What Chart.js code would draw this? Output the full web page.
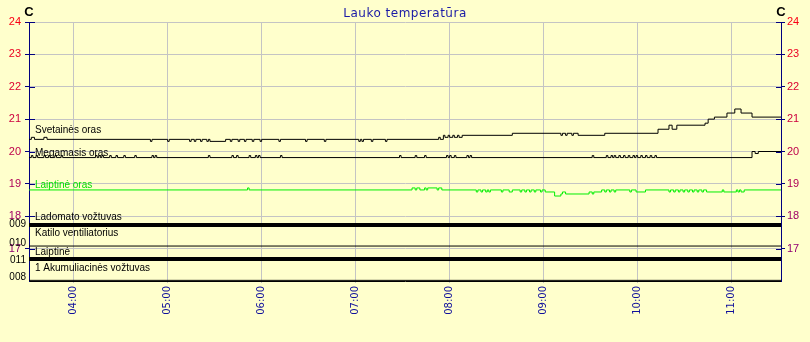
<!DOCTYPE html>
<html>
<head>
<meta charset="utf-8">
<script src="https://cdn.jsdelivr.net/npm/chart.js@4.4.0/dist/chart.umd.min.js"></script>
<style>
  body { margin: 0; background: #ffffcc; }
  canvas { display: block; }
</style>
</head>
<body>
<canvas id="chart" width="810" height="342"></canvas>
<script>
// chart data
const chartTitle = 'Lauko temperatūra';
const axisUnit = 'C';
const xRange = ['03:31.5', '11:31.5'];
const xTickLabels = ['04:00', '05:00', '06:00', '07:00', '08:00', '09:00', '10:00', '11:00'];
const yRange = [16, 24];
const yTickValues = [17, 18, 19, 20, 21, 22, 23, 24];

const analogNames = ['Svetainės oras', 'Megamasis oras', 'Laiptinė oras'];

// [time, value] - value holds from that time on
const svetainesOras = [
  ['03:31', 20.375], ['03:33', 20.4375], ['03:35', 20.375], ['03:41', 20.4375], ['03:43', 20.375],
  ['04:49', 20.3125], ['04:50', 20.375], ['05:00', 20.3125], ['05:01', 20.375],
  ['05:14', 20.3125], ['05:15', 20.375], ['05:17', 20.3125], ['05:18', 20.375], ['05:21', 20.3125], ['05:22', 20.375],
  ['05:25', 20.3125], ['05:26', 20.375], ['05:27', 20.3125], ['05:37', 20.375], ['05:40', 20.3125], ['05:41', 20.375],
  ['05:45', 20.3125], ['05:46', 20.375], ['05:49', 20.3125], ['05:50', 20.375], ['05:54', 20.3125], ['05:55', 20.375],
  ['05:59', 20.3125], ['06:00', 20.375], ['06:11', 20.3125], ['06:12', 20.375], ['06:28', 20.3125], ['06:29', 20.375],
  ['06:40', 20.3125], ['06:41', 20.375], ['07:02', 20.3125], ['07:03', 20.375], ['07:04', 20.3125], ['07:05', 20.375],
  ['07:10', 20.3125], ['07:11', 20.375], ['07:19', 20.3125], ['07:20', 20.375],
  ['07:53', 20.4375], ['07:54', 20.375], ['07:56', 20.5], ['07:57', 20.4375], ['07:59', 20.5], ['08:00', 20.4375],
  ['08:02', 20.5], ['08:03', 20.4375], ['08:05', 20.5], ['08:06', 20.4375], ['08:08', 20.5],
  ['08:40', 20.5625], ['09:11', 20.5], ['09:12', 20.5625], ['09:14', 20.5], ['09:15', 20.5625], ['09:18', 20.5],
  ['09:19', 20.5625], ['09:22', 20.5], ['09:39', 20.5625], ['10:13', 20.6875], ['10:20', 20.8125], ['10:22', 20.6875],
  ['10:25', 20.8125], ['10:43', 20.875], ['10:45', 21.0], ['10:49', 21.0625], ['10:57', 21.1875], ['11:02', 21.3125],
  ['11:06', 21.1875], ['11:13', 21.0625], ['11:32', 21.0625]
];

const megamasisOras = [
  ['03:31', 19.8125], ['03:33', 19.875], ['03:34', 19.8125], ['03:36', 19.875], ['03:37', 19.8125], ['03:41', 19.875],
  ['03:42', 19.8125], ['03:44', 19.875], ['03:45', 19.8125], ['03:48', 19.875], ['03:49', 19.8125], ['03:52', 19.875],
  ['03:53', 19.8125], ['04:14', 19.875], ['04:15', 19.8125], ['04:16', 19.875], ['04:17', 19.8125], ['04:18', 19.875],
  ['04:19', 19.8125], ['04:23', 19.875], ['04:24', 19.8125], ['04:27', 19.875], ['04:28', 19.8125], ['04:32', 19.875],
  ['04:33', 19.8125], ['04:39', 19.875], ['04:40', 19.8125], ['04:50', 19.875], ['04:51', 19.8125], ['04:52', 19.875],
  ['04:53', 19.8125], ['05:26', 19.875], ['05:27', 19.8125], ['05:41', 19.875], ['05:42', 19.8125], ['05:44', 19.875],
  ['05:45', 19.8125], ['05:52', 19.875], ['05:53', 19.8125], ['05:56', 19.875], ['05:57', 19.8125], ['05:58', 19.875],
  ['05:59', 19.8125], ['06:12', 19.875], ['06:13', 19.8125], ['07:28', 19.875], ['07:29', 19.8125], ['07:38', 19.875],
  ['07:39', 19.8125], ['07:44', 19.875], ['07:45', 19.8125], ['07:58', 19.875], ['07:59', 19.8125], ['08:00', 19.875],
  ['08:01', 19.8125], ['08:03', 19.875], ['08:04', 19.8125], ['08:11', 19.875], ['08:12', 19.8125], ['08:13', 19.875],
  ['08:14', 19.8125], ['09:31', 19.875], ['09:32', 19.8125], ['09:40', 19.875], ['09:41', 19.8125], ['09:43', 19.875],
  ['09:44', 19.8125], ['09:45', 19.875], ['09:46', 19.8125], ['09:48', 19.875], ['09:49', 19.8125], ['09:51', 19.875],
  ['09:52', 19.8125], ['09:54', 19.875], ['09:55', 19.8125], ['09:57', 19.875], ['09:58', 19.8125], ['09:59', 19.875],
  ['10:00', 19.8125], ['10:02', 19.875], ['10:03', 19.8125], ['10:05', 19.875], ['10:06', 19.8125], ['10:08', 19.875],
  ['10:09', 19.8125], ['10:11', 19.875], ['10:12', 19.8125], ['11:13', 20.0], ['11:15', 19.9375], ['11:17', 20.0],
  ['11:32', 20.0]
];

const laiptineOras = [
  ['03:31', 18.8125], ['05:51', 18.875], ['05:52', 18.8125],
  ['07:36', 18.875], ['07:38', 18.8125], ['07:39', 18.875], ['07:41', 18.8125], ['07:44', 18.875], ['07:45', 18.8125],
  ['07:46', 18.875], ['07:52', 18.8125], ['07:53', 18.875], ['07:55', 18.8125],
  ['08:17', 18.75], ['08:18', 18.8125], ['08:20', 18.75], ['08:21', 18.8125], ['08:23', 18.75], ['08:24', 18.8125],
  ['08:25', 18.75], ['08:26', 18.8125], ['08:33', 18.75], ['08:34', 18.8125], ['08:38', 18.75], ['08:40', 18.8125],
  ['08:45', 18.75], ['08:46', 18.8125], ['08:48', 18.75], ['08:49', 18.8125], ['08:51', 18.75], ['08:52', 18.8125],
  ['08:54', 18.75], ['08:55', 18.8125], ['08:58', 18.75], ['08:59', 18.8125],
  ['09:01', 18.75], ['09:07', 18.625], ['09:11', 18.6875], ['09:12', 18.75], ['09:14', 18.6875], ['09:29', 18.75],
  ['09:31', 18.6875], ['09:32', 18.75], ['09:37', 18.8125], ['09:39', 18.75], ['09:40', 18.8125], ['09:42', 18.75],
  ['09:43', 18.8125], ['09:45', 18.75], ['09:46', 18.8125], ['09:55', 18.75], ['09:56', 18.8125], ['09:59', 18.75],
  ['10:05', 18.8125], ['10:20', 18.75], ['10:21', 18.8125], ['10:23', 18.75], ['10:24', 18.8125], ['10:26', 18.75],
  ['10:27', 18.8125], ['10:29', 18.75], ['10:30', 18.8125], ['10:32', 18.75], ['10:33', 18.8125], ['10:35', 18.75],
  ['10:36', 18.8125], ['10:38', 18.75], ['10:39', 18.8125], ['10:41', 18.75], ['10:42', 18.8125], ['10:44', 18.75],
  ['10:54', 18.8125], ['10:55', 18.75], ['11:03', 18.8125], ['11:04', 18.75], ['11:05', 18.8125], ['11:06', 18.75],
  ['11:08', 18.8125], ['11:32', 18.8125]
];

const digitalNames = ['Ladomato vožtuvas', 'Katilo ventiliatorius', 'Laiptinė', '1 Akumuliacinės vožtuvas'];
const digitalCodes = ['009', '010', '011', '008'];
const digitalStates = [1, 0, 1, 0];
const digitalLevels = [17.73, 17.08, 16.68, 16.02];

// styles / text anchors
const analogColors = ['#000000', '#000000', '#00ee00'];
const labelColors = ['#000000', '#000000', '#00dd00'];
const analogLabelY = [20.67, 19.96, 18.97];
const digitalLabelY = [17.96, 17.46, 16.9, 16.38];
const codeLabelY = [17.74, 17.17, 16.65, 16.12];
const navy = '#000080';
const gridGray = '#c4c4c4';

const toMin = s => {
  const [h, m] = s.split(':');
  return Number(h) * 60 + parseFloat(m);
};
const xMin = toMin(xRange[0]);
const xMax = toMin(xRange[1]);

function fmtTime(v) {
  const h = Math.floor(v / 60), m = Math.round(v % 60);
  return String(h).padStart(2, '0') + ':' + String(m).padStart(2, '0');
}

function tickColor(v) {
  const t = (24 - v) / 7;
  return `rgb(${Math.round(250 - 105 * t)},0,${Math.round(20 + 95 * t)})`;
}

const datasets = [];
[svetainesOras, megamasisOras, laiptineOras].forEach((series, i) => {
  datasets.push({
    label: analogNames[i],
    data: series.map(([t, v]) => ({ x: toMin(t), y: v })),
    borderColor: analogColors[i],
    borderWidth: 1,
    stepped: true,
    pointRadius: 0,
    yAxisID: 'y'
  });
});
digitalNames.forEach((name, i) => {
  datasets.push({
    label: name,
    data: [{ x: xMin, y: digitalLevels[i] }, { x: xMax, y: digitalLevels[i] }],
    borderColor: '#000000',
    borderWidth: digitalStates[i] ? 4 : 1,
    pointRadius: 0,
    yAxisID: 'y'
  });
});

const overlay = {
  id: 'overlay',
  afterDatasetsDraw(chart) {
    const { ctx, chartArea: a, scales: { y } } = chart;
    ctx.save();
    ctx.textBaseline = 'middle';

    // series names
    ctx.font = '10px "Liberation Sans"';
    ctx.textAlign = 'left';
    analogNames.forEach((name, i) => {
      ctx.fillStyle = labelColors[i];
      ctx.fillText(name, a.left + 6, y.getPixelForValue(analogLabelY[i]));
    });
    ctx.fillStyle = '#000000';
    digitalNames.forEach((name, i) => {
      ctx.fillText(name, a.left + 6, y.getPixelForValue(digitalLabelY[i]));
    });

    // digital channel codes
    ctx.textAlign = 'right';
    digitalCodes.forEach((code, i) => {
      ctx.fillText(code, a.left - 3, y.getPixelForValue(codeLabelY[i]));
    });

    // inner halves of the axis ticks
    ctx.strokeStyle = navy;
    ctx.lineWidth = 1;
    ctx.beginPath();
    yTickValues.forEach(v => {
      const py = Math.round(y.getPixelForValue(v)) + 0.5;
      ctx.moveTo(a.left, py);
      ctx.lineTo(a.left + 6, py);
      ctx.moveTo(a.right - 5, py);
      ctx.lineTo(a.right, py);
    });
    ctx.stroke();

    // unit labels
    ctx.font = 'bold 13px "Liberation Sans"';
    ctx.textAlign = 'center';
    ctx.fillText(axisUnit, a.left, 12);
    ctx.fillText(axisUnit, a.right, 12);

    // title
    ctx.font = '12px "DejaVu Sans"';
    ctx.letterSpacing = '0.5px';
    ctx.fillStyle = '#1a1aa6';
    ctx.fillText(chartTitle, chart.width / 2, 14);
    ctx.restore();
  }
};

const yTicks = {
  color: c => tickColor(c.tick.value),
  font: { family: 'Liberation Sans', size: 11 },
  autoSkip: false
};

new Chart(document.getElementById('chart'), {
  type: 'line',
  data: { datasets },
  options: {
    responsive: false,
    animation: false,
    layout: { padding: { top: 22 } },
    plugins: { legend: { display: false }, tooltip: { enabled: false } },
    scales: {
      x: {
        type: 'linear',
        min: xMin,
        max: xMax,
        afterBuildTicks: s => { s.ticks = xTickLabels.map(t => ({ value: toMin(t) })); },
        afterFit: s => { s.height = 61; },
        ticks: {
          callback: v => fmtTime(v),
          minRotation: 90,
          maxRotation: 90,
          autoSkip: false,
          padding: 3,
          color: '#10109c',
          font: { family: 'DejaVu Sans', size: 10 }
        },
        grid: { color: gridGray, tickLength: 2 },
        border: { color: '#000000' }
      },
      y: {
        position: 'left',
        min: yRange[0],
        max: yRange[1],
        afterBuildTicks: s => { s.ticks = yTickValues.map(v => ({ value: v })); },
        afterFit: s => { s.width = 29; },
        ticks: { ...yTicks, padding: 4 },
        grid: { color: gridGray, tickColor: navy, tickLength: 4 },
        border: { color: navy }
      },
      y2: {
        position: 'right',
        min: yRange[0],
        max: yRange[1],
        afterBuildTicks: s => { s.ticks = yTickValues.map(v => ({ value: v })); },
        afterFit: s => { s.width = 29; },
        ticks: { ...yTicks, padding: 2 },
        grid: { drawOnChartArea: false, tickColor: navy, tickLength: 4 },
        border: { color: navy }
      }
    }
  },
  plugins: [overlay]
});
</script>
</body>
</html>
